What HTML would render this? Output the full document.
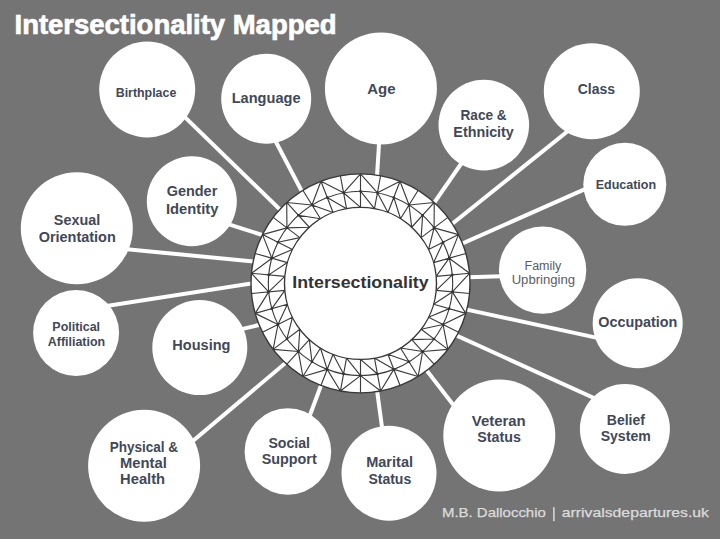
<!DOCTYPE html><html><head><meta charset="utf-8"><style>html,body{margin:0;padding:0;background:#747474;}svg{display:block}text{font-family:"Liberation Sans",sans-serif}</style></head><body>
<svg width="720" height="539" viewBox="0 0 720 539">
<rect width="720" height="539" fill="#747474"/>
<g stroke="#fff" stroke-width="4.0"><line x1="151.7" y1="84.9" x2="358.3" y2="285.7"/><line x1="256.1" y1="104.0" x2="352.3" y2="287.7"/><line x1="382.4" y1="88.6" x2="370.4" y2="284.0"/><line x1="486.5" y1="127.0" x2="372.7" y2="291.8"/><line x1="601.9" y1="103.8" x2="367.3" y2="291.9"/><line x1="620.0" y1="173.6" x2="362.4" y2="287.8"/><line x1="542.8" y1="275.1" x2="360.4" y2="280.6"/><line x1="632.9" y1="345.6" x2="359.9" y2="286.4"/><line x1="631.3" y1="415.0" x2="357.3" y2="290.4"/><line x1="485.2" y1="446.3" x2="359.9" y2="283.9"/><line x1="388.3" y1="473.3" x2="362.4" y2="283.1"/><line x1="295.3" y1="454.3" x2="359.3" y2="283.0"/><line x1="152.1" y1="475.3" x2="368.6" y2="293.0"/><line x1="197.9" y1="339.5" x2="364.4" y2="299.9"/><line x1="72.7" y1="311.3" x2="357.9" y2="266.8"/><line x1="75.3" y1="244.2" x2="361.6" y2="272.0"/><line x1="188.5" y1="211.5" x2="365.4" y2="267.9"/></g>
<g fill="#fff"><circle cx="147.2" cy="89.5" r="48"/><circle cx="266.2" cy="98.7" r="45"/><circle cx="380.9" cy="88.5" r="56"/><circle cx="483.8" cy="125.1" r="45.3"/><circle cx="591.8" cy="91.2" r="48"/><circle cx="624.8" cy="184.3" r="41.5"/><circle cx="542.6" cy="270.1" r="43.7"/><circle cx="637.7" cy="323.2" r="45"/><circle cx="624.9" cy="429" r="45"/><circle cx="499.3" cy="435.4" r="56"/><circle cx="389" cy="473.2" r="47.5"/><circle cx="287.9" cy="451.5" r="43.3"/><circle cx="144.1" cy="465.8" r="56"/><circle cx="199.8" cy="347.6" r="47.5"/><circle cx="76.1" cy="332.9" r="43"/><circle cx="76.8" cy="228.3" r="56"/><circle cx="191.8" cy="201.3" r="45"/></g>
<circle cx="360.5" cy="283.4" r="109.5" fill="#fff" stroke="#383838" stroke-width="1.4"/>
<path d="M360.50 173.90L360.50 207.40M360.50 191.20L374.46 208.69M360.50 173.90L343.56 192.77M360.50 173.90L377.44 192.77M380.62 175.76L374.46 208.69M377.44 192.77L387.95 212.53M400.06 181.29L387.95 212.53M393.81 197.43L400.51 218.78M400.06 181.29L377.44 192.77M400.06 181.29L409.04 205.01M418.14 190.30L400.51 218.78M409.04 205.01L411.70 227.24M434.27 202.48L411.70 227.24M422.61 215.26L421.15 237.60M434.27 202.48L409.04 205.01M434.27 202.48L434.08 227.84M447.88 217.41L421.15 237.60M434.08 227.84L428.53 249.52M458.52 234.59L428.53 249.52M443.03 242.30L433.60 262.60M458.52 234.59L434.08 227.84M458.52 234.59L449.18 258.17M465.82 253.43L433.60 262.60M449.18 258.17L436.18 276.39M469.53 273.30L436.18 276.39M452.31 274.89L436.18 290.41M469.53 273.30L449.18 258.17M469.53 273.30L452.31 291.91M469.53 293.50L436.18 290.41M452.31 291.91L433.60 304.20M465.82 313.37L433.60 304.20M449.18 308.63L428.53 317.28M465.82 313.37L452.31 291.91M465.82 313.37L443.03 324.50M458.52 332.21L428.53 317.28M443.03 324.50L421.15 329.20M447.88 349.39L421.15 329.20M434.08 338.96L411.70 339.56M447.88 349.39L443.03 324.50M447.88 349.39L422.61 351.54M434.27 364.32L411.70 339.56M422.61 351.54L400.51 348.02M418.14 376.50L400.51 348.02M409.04 361.79L387.95 354.27M418.14 376.50L422.61 351.54M418.14 376.50L393.81 369.37M400.06 385.51L387.95 354.27M393.81 369.37L374.46 358.11M380.62 391.04L374.46 358.11M377.44 374.03L360.50 359.40M380.62 391.04L393.81 369.37M380.62 391.04L360.50 375.60M360.50 392.90L360.50 359.40M360.50 375.60L346.54 358.11M340.38 391.04L346.54 358.11M343.56 374.03L333.05 354.27M340.38 391.04L360.50 375.60M340.38 391.04L327.19 369.37M320.94 385.51L333.05 354.27M327.19 369.37L320.49 348.02M302.86 376.50L320.49 348.02M311.96 361.79L309.30 339.56M302.86 376.50L327.19 369.37M302.86 376.50L298.39 351.54M286.73 364.32L309.30 339.56M298.39 351.54L299.85 329.20M273.12 349.39L299.85 329.20M286.92 338.96L292.47 317.28M273.12 349.39L298.39 351.54M273.12 349.39L277.97 324.50M262.48 332.21L292.47 317.28M277.97 324.50L287.40 304.20M255.18 313.37L287.40 304.20M271.82 308.63L284.82 290.41M255.18 313.37L277.97 324.50M255.18 313.37L268.69 291.91M251.47 293.50L284.82 290.41M268.69 291.91L284.82 276.39M251.47 273.30L284.82 276.39M268.69 274.89L287.40 262.60M251.47 273.30L268.69 291.91M251.47 273.30L271.82 258.17M255.18 253.43L287.40 262.60M271.82 258.17L292.47 249.52M262.48 234.59L292.47 249.52M277.97 242.30L299.85 237.60M262.48 234.59L271.82 258.17M262.48 234.59L286.92 227.84M273.12 217.41L299.85 237.60M286.92 227.84L309.30 227.24M286.73 202.48L309.30 227.24M298.39 215.26L320.49 218.78M286.73 202.48L286.92 227.84M286.73 202.48L311.96 205.01M302.86 190.30L320.49 218.78M311.96 205.01L333.05 212.53M320.94 181.29L333.05 212.53M327.19 197.43L346.54 208.69M320.94 181.29L311.96 205.01M320.94 181.29L343.56 192.77M340.38 175.76L346.54 208.69M343.56 192.77L360.50 207.40" stroke="#3c3c3c" stroke-width="1.15" fill="none"/>
<circle cx="360.5" cy="283.4" r="92.2" fill="none" stroke="#3c3c3c" stroke-width="1.15"/>
<g fill="#333"><circle cx="360.50" cy="191.20" r="1.3"/><circle cx="377.44" cy="192.77" r="1.3"/><circle cx="393.81" cy="197.43" r="1.3"/><circle cx="409.04" cy="205.01" r="1.3"/><circle cx="422.61" cy="215.26" r="1.3"/><circle cx="434.08" cy="227.84" r="1.3"/><circle cx="443.03" cy="242.30" r="1.3"/><circle cx="449.18" cy="258.17" r="1.3"/><circle cx="452.31" cy="274.89" r="1.3"/><circle cx="452.31" cy="291.91" r="1.3"/><circle cx="449.18" cy="308.63" r="1.3"/><circle cx="443.03" cy="324.50" r="1.3"/><circle cx="434.08" cy="338.96" r="1.3"/><circle cx="422.61" cy="351.54" r="1.3"/><circle cx="409.04" cy="361.79" r="1.3"/><circle cx="393.81" cy="369.37" r="1.3"/><circle cx="377.44" cy="374.03" r="1.3"/><circle cx="360.50" cy="375.60" r="1.3"/><circle cx="343.56" cy="374.03" r="1.3"/><circle cx="327.19" cy="369.37" r="1.3"/><circle cx="311.96" cy="361.79" r="1.3"/><circle cx="298.39" cy="351.54" r="1.3"/><circle cx="286.92" cy="338.96" r="1.3"/><circle cx="277.97" cy="324.50" r="1.3"/><circle cx="271.82" cy="308.63" r="1.3"/><circle cx="268.69" cy="291.91" r="1.3"/><circle cx="268.69" cy="274.89" r="1.3"/><circle cx="271.82" cy="258.17" r="1.3"/><circle cx="277.97" cy="242.30" r="1.3"/><circle cx="286.92" cy="227.84" r="1.3"/><circle cx="298.39" cy="215.26" r="1.3"/><circle cx="311.96" cy="205.01" r="1.3"/><circle cx="327.19" cy="197.43" r="1.3"/><circle cx="343.56" cy="192.77" r="1.3"/></g>
<circle cx="360.5" cy="283.4" r="76" fill="#fff" stroke="#383838" stroke-width="1.4"/>
<text x="146.0" y="96.8" text-anchor="middle" font-size="12.5" font-weight="bold" fill="#414857" textLength="60.6" lengthAdjust="spacingAndGlyphs">Birthplace</text>
<text x="266.1" y="103" text-anchor="middle" font-size="14" font-weight="bold" fill="#414857" textLength="68.8" lengthAdjust="spacingAndGlyphs">Language</text>
<text x="381.4" y="93.6" text-anchor="middle" font-size="14" font-weight="bold" fill="#414857" textLength="28.3" lengthAdjust="spacingAndGlyphs">Age</text>
<text x="483.6" y="120.1" text-anchor="middle" font-size="14" font-weight="bold" fill="#414857" textLength="46.1" lengthAdjust="spacingAndGlyphs">Race &amp;</text>
<text x="483.6" y="136.8" text-anchor="middle" font-size="14" font-weight="bold" fill="#414857" textLength="60.5" lengthAdjust="spacingAndGlyphs">Ethnicity</text>
<text x="596.4" y="93.9" text-anchor="middle" font-size="14" font-weight="bold" fill="#414857" textLength="37.2" lengthAdjust="spacingAndGlyphs">Class</text>
<text x="625.9" y="189" text-anchor="middle" font-size="12.5" font-weight="bold" fill="#414857" textLength="60.4" lengthAdjust="spacingAndGlyphs">Education</text>
<text x="542.9" y="269.7" text-anchor="middle" font-size="12.5" font-weight="normal" fill="#575d6b" textLength="36.8" lengthAdjust="spacingAndGlyphs">Family</text>
<text x="543.4" y="283.5" text-anchor="middle" font-size="12.5" font-weight="normal" fill="#575d6b" textLength="63.5" lengthAdjust="spacingAndGlyphs">Upbringing</text>
<text x="637.8" y="327.4" text-anchor="middle" font-size="14" font-weight="bold" fill="#414857" textLength="79.1" lengthAdjust="spacingAndGlyphs">Occupation</text>
<text x="625.9" y="424.7" text-anchor="middle" font-size="14" font-weight="bold" fill="#414857" textLength="38.1" lengthAdjust="spacingAndGlyphs">Belief</text>
<text x="625.7" y="440.7" text-anchor="middle" font-size="14" font-weight="bold" fill="#414857" textLength="50.1" lengthAdjust="spacingAndGlyphs">System</text>
<text x="498.8" y="425.5" text-anchor="middle" font-size="14" font-weight="bold" fill="#414857" textLength="53.9" lengthAdjust="spacingAndGlyphs">Veteran</text>
<text x="499.1" y="442.4" text-anchor="middle" font-size="14" font-weight="bold" fill="#414857" textLength="43.5" lengthAdjust="spacingAndGlyphs">Status</text>
<text x="389.6" y="466.8" text-anchor="middle" font-size="14" font-weight="bold" fill="#414857" textLength="46.9" lengthAdjust="spacingAndGlyphs">Marital</text>
<text x="389.8" y="483.5" text-anchor="middle" font-size="14" font-weight="bold" fill="#414857" textLength="42.8" lengthAdjust="spacingAndGlyphs">Status</text>
<text x="289.2" y="447.5" text-anchor="middle" font-size="14" font-weight="bold" fill="#414857" textLength="41.6" lengthAdjust="spacingAndGlyphs">Social</text>
<text x="289.2" y="463.5" text-anchor="middle" font-size="14" font-weight="bold" fill="#414857" textLength="55.0" lengthAdjust="spacingAndGlyphs">Support</text>
<text x="143.9" y="451.7" text-anchor="middle" font-size="14" font-weight="bold" fill="#414857" textLength="68.4" lengthAdjust="spacingAndGlyphs">Physical &amp;</text>
<text x="143.4" y="467.8" text-anchor="middle" font-size="14" font-weight="bold" fill="#414857" textLength="46.7" lengthAdjust="spacingAndGlyphs">Mental</text>
<text x="142.6" y="484.2" text-anchor="middle" font-size="14" font-weight="bold" fill="#414857" textLength="45.0" lengthAdjust="spacingAndGlyphs">Health</text>
<text x="201.4" y="350.4" text-anchor="middle" font-size="14" font-weight="bold" fill="#414857" textLength="58.1" lengthAdjust="spacingAndGlyphs">Housing</text>
<text x="76.2" y="331.1" text-anchor="middle" font-size="12.5" font-weight="bold" fill="#414857" textLength="47.7" lengthAdjust="spacingAndGlyphs">Political</text>
<text x="76.5" y="345.8" text-anchor="middle" font-size="12.5" font-weight="bold" fill="#414857" textLength="57.3" lengthAdjust="spacingAndGlyphs">Affiliation</text>
<text x="77.0" y="224.6" text-anchor="middle" font-size="14" font-weight="bold" fill="#414857" textLength="46.3" lengthAdjust="spacingAndGlyphs">Sexual</text>
<text x="77.2" y="241.7" text-anchor="middle" font-size="14" font-weight="bold" fill="#414857" textLength="77.1" lengthAdjust="spacingAndGlyphs">Orientation</text>
<text x="192.0" y="196.1" text-anchor="middle" font-size="14" font-weight="bold" fill="#414857" textLength="50.6" lengthAdjust="spacingAndGlyphs">Gender</text>
<text x="192.2" y="213.5" text-anchor="middle" font-size="14" font-weight="bold" fill="#414857" textLength="52.4" lengthAdjust="spacingAndGlyphs">Identity</text>
<text x="360.5" y="287.5" text-anchor="middle" font-size="16.7" font-weight="bold" fill="#333" textLength="136.4" lengthAdjust="spacingAndGlyphs">Intersectionality</text>
<text x="14.5" y="33.8" font-size="27.5" font-weight="bold" fill="#fff" stroke="#fff" stroke-width="0.7" textLength="322" lengthAdjust="spacingAndGlyphs">Intersectionality Mapped</text>
<g font-size="12.8" fill="#dcdcdc" stroke="#dcdcdc" stroke-width="0.25"><text x="442" y="516.7" textLength="103.8" lengthAdjust="spacingAndGlyphs">M.B. Dallocchio</text><rect x="553.2" y="507.5" width="1.3" height="13.5"/><text x="561.8" y="516.7" textLength="147.2" lengthAdjust="spacingAndGlyphs">arrivalsdepartures.uk</text></g>
</svg></body></html>
